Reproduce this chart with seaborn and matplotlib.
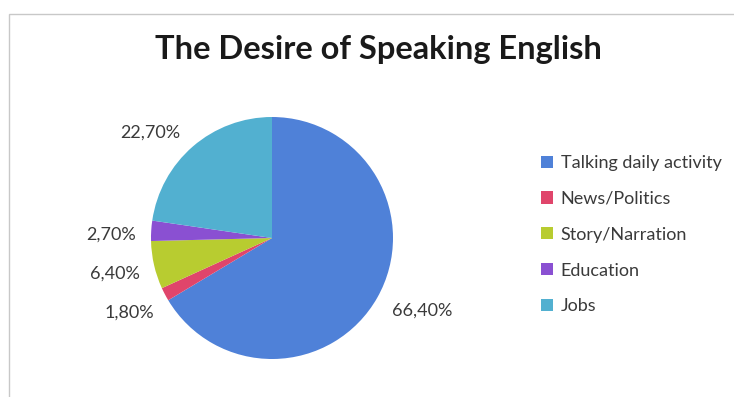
import matplotlib
matplotlib.use("Agg")
import matplotlib.pyplot as plt
from matplotlib.patches import Patch, Rectangle
import seaborn as sns

categories = ["Talking daily activity", "News/Politics", "Story/Narration", "Education", "Jobs"]
values = [66.40, 1.80, 6.40, 2.70, 22.70]
colors = ["#4F81D8", "#E0456B", "#B8CC30", "#8A50D2", "#52B0D0"]
title = "The Desire of Speaking English"

sns.set_theme(style="white")
plt.rcParams["font.family"] = ["Lato", "DejaVu Sans"]
palette = sns.color_palette(colors)

W, H = 734, 397
fig = plt.figure(figsize=(W / 100, H / 100), dpi=100)

# light chart frame
fig.patches.append(Rectangle((9 / W, -0.05), 1.0, (H - 14) / H + 0.05,
                             transform=fig.transFigure, fill=False,
                             edgecolor="#c8c8c8", linewidth=1.0))

cx, cy, r = 272, 238, 121
ax = fig.add_axes([(cx - r) / W, (H - cy - r) / H, 2 * r / W, 2 * r / H])
labels = [f"{v:.2f}%".replace(".", ",") for v in values]
wedges, texts = ax.pie(values, colors=palette, startangle=90, counterclock=False,
                       labels=labels, labeldistance=1.33,
                       wedgeprops=dict(linewidth=0),
                       textprops=dict(fontsize=13, color="#3a3a3a"))

# small "best fit" nudges for the outside labels, in pixels (right, up)
nudges = [(10, 7), (0, 0), (0, 0), (0, -6), (-16, -16)]
for t, (dx, dy) in zip(texts, nudges):
    x, y = t.get_position()
    t.set_position((x + dx / r, y + dy / r))
    t.set_ha("center")
    t.set_va("center")
ax.set_xlim(-1, 1)
ax.set_ylim(-1, 1)
ax.set_aspect("equal")
ax.axis("off")

fig.text(378 / W, 1 - 49 / H, title, ha="center", va="center",
         fontsize=23.5, fontweight="bold", color="#1a1a1a")

handles = [Patch(facecolor=c, edgecolor="none") for c in palette]
fig.legend(handles, categories, loc="upper left",
           bbox_to_anchor=(541 / W, 1 - 155 / H), frameon=False,
           fontsize=13, handlelength=0.65, handleheight=0.65,
           handletextpad=0.45, labelspacing=1.1, labelcolor="#3a3a3a",
           borderaxespad=0, borderpad=0)

fig.savefig("out.png", dpi=100, facecolor="white")
